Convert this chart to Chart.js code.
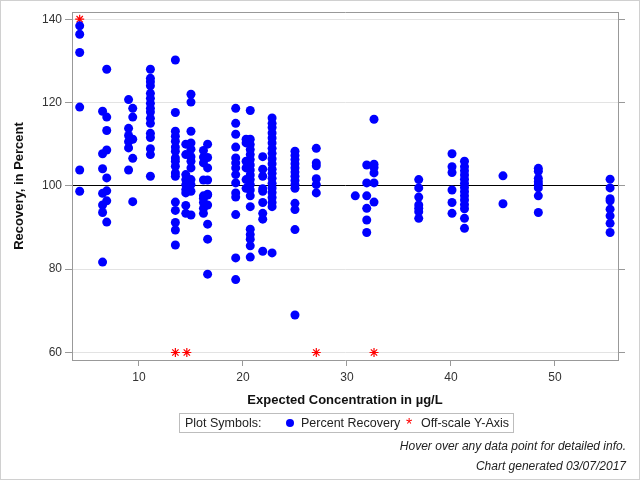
<!DOCTYPE html>
<html>
<head>
<meta charset="utf-8">
<script src="https://cdn.jsdelivr.net/npm/chart.js@4.4.0/dist/chart.umd.min.js"></script>
<style>
  body { margin: 0; font-family: "Liberation Sans", Arial, sans-serif; }
  #wrap { position: relative; width: 638px; height: 478px; border: 1px solid #d0d0d0; overflow: hidden; }
  #chart { position: absolute; left: -1px; top: -1px; }
  #legend { position: absolute; left: 178px; top: 412px; width: 333px; height: 18px; border: 1px solid #bdbdbd;
            font-size: 12.5px; color: #222; line-height: 18px; white-space: nowrap; }
  #legend span { position: absolute; top: 0; }
  .dot { display: inline-block; width: 8px; height: 8px; border-radius: 50%; background: #0000ff; }
  .foot { position: absolute; right: 13px; font-size: 12px; font-style: italic; color: #222; }
</style>
</head>
<body>
<div id="wrap">
  <canvas id="chart" width="640" height="480"></canvas>
  <div id="legend">
    <span style="left:5px">Plot Symbols:</span>
    <span style="left:106px; top:5px" class="dot"></span>
    <span style="left:121px">Percent Recovery</span>
    <span style="left:226px; color:#ff0000; font-size:16px; top:2px">*</span>
    <span style="left:241px">Off-scale Y-Axis</span>
  </div>
  <div class="foot" style="top:438px">Hover over any data point for detailed info.</div>
  <div class="foot" style="top:458px">Chart generated 03/07/2017</div>
</div>
<script>
// expected concentration (µg/L) of each sample group
const concLevels = [4.3, 6.5, 6.9, 9.0, 9.4, 11.1, 13.5, 14.5, 15.0, 16.2, 16.6, 19.3, 20.3, 20.7,
                    21.9, 22.8, 25.0, 27.05, 30.8, 31.9, 32.6, 36.9, 40.1, 41.3, 45.0, 48.4, 55.3];

// percent recovery per concentration group
const recoveryByLevel = [
    [138.4, 136.4, 132, 118.9, 103.8, 98.7],
    [117.9, 107.7, 104.1, 98.2, 95.4, 93.6, 81.7],
    [128, 116.5, 113.3, 108.6, 101.9, 98.8, 96.4, 91.3],
    [120.7, 113.8, 112.1, 110.6, 109.1, 103.8],
    [118.6, 116.5, 111.2, 106.6, 96.2],
    [128, 125.8, 125, 124, 122.2, 121, 119.8, 118.6, 117.7, 116.2, 115, 112.6, 111.6, 108.9, 107.5, 102.3],
    [130.2, 117.6, 113.1, 111.9, 110.7, 109.3, 108.3, 106.7, 105.9, 104.7, 103.1, 102.3, 96.1, 94.1, 91.2, 89.4, 85.8],
    [110, 107.5, 102.7, 101.5, 100.3, 99.1, 98.3, 95.3, 93.4],
    [122, 120.1, 113.1, 110.3, 108.8, 107, 105.9, 104.3, 101.5, 100.3, 98.7, 93],
    [108.5, 106.9, 105.5, 101.4, 97.6, 97, 96, 94.6, 93.4],
    [110, 106.8, 104.3, 101.4, 98, 97.8, 95.4, 90.8, 87.2, 78.8],
    [118.6, 115, 112.4, 109.3, 106.7, 105.5, 104.3, 102.7, 100.7, 98.3, 97.3, 93.1, 82.7, 77.5],
    [111.2, 110.3, 105.9, 104.3, 101.5, 99.4],
    [118.1, 111.2, 109.9, 108.7, 107.5, 106.3, 105, 103.8, 102.6, 101.5, 100.3, 99, 97.6, 95, 89.6, 88.3, 87.2, 85.6, 82.9],
    [107, 104, 102.3, 99.3, 98.7, 96, 93.4, 92, 84.3],
    [116.3, 115, 114, 112.7, 111.5, 110.3, 109, 107.8, 106.5, 105.3, 104, 103, 101.8, 100.6, 99.5, 98.4, 97.2, 96, 95, 83.9],
    [108.3, 107.3, 106.3, 105.3, 104.3, 103.3, 102.3, 101.3, 100.3, 99.4, 95.8, 94.3, 89.5, 69],
    [109, 105.5, 104.8, 101.7, 100.3, 98.3],
    [97.6],
    [105, 100.7, 97.6, 94.6, 91.8, 88.8],
    [116, 105.2, 104.4, 103.1, 100.7, 96.1],
    [101.5, 99.5, 97.3, 95.4, 94.6, 93.8, 92.2],
    [107.7, 104.6, 103.2, 99, 96, 93.4],
    [105.9, 104.6, 103.6, 102.6, 101.6, 100.6, 99.6, 98.6, 97.6, 96.6, 95.5, 94.5, 92.2, 89.8],
    [102.4, 95.7],
    [104.2, 103.5, 101.8, 101, 100.3, 99.5, 97.6, 93.6],
    [101.6, 99.5, 96.9, 96.4, 94.4, 92.8, 91, 88.8]
];

// off-scale samples, drawn at the axis limit
const offScaleConc = [4.3, 13.5, 14.6, 27.05, 32.6];
const offScaleY = [140, 60, 60, 60, 60];

const xTickValues = [10, 20, 30, 40, 50];
const yTickValues = [60, 80, 100, 120, 140];

const recoveryPoints = [];
concLevels.forEach(function (c, i) {
    recoveryByLevel[i].forEach(function (r) {
        recoveryPoints.push({ x: c, y: r });
    });
});
const offScalePoints = offScaleConc.map(function (c, i) { return { x: c, y: offScaleY[i] }; });

const tickFont = { family: '"Liberation Sans", Arial, sans-serif', size: 12 };
const titleFont = { family: '"Liberation Sans", Arial, sans-serif', size: 13, weight: 'bold' };

const chart = new Chart(document.getElementById('chart').getContext('2d'), {
    type: 'scatter',
    data: {
        datasets: [{
            label: 'Percent Recovery',
            data: recoveryPoints,
            backgroundColor: '#0000ff',
            borderWidth: 0,
            pointRadius: 4.5
        }, {
            label: 'Off-scale Y-Axis',
            data: offScalePoints,
            pointStyle: 'star',
            borderColor: '#ff0000',
            borderWidth: 1.2,
            pointRadius: 4.5
        }]
    },
    options: {
        responsive: false,
        animation: false,
        layout: { padding: { left: 8, top: 12, right: 15, bottom: 70 } },
        plugins: { legend: { display: false }, tooltip: { enabled: false } },
        scales: {
            x: {
                type: 'linear',
                min: 3.56,
                max: 56.06,
                afterBuildTicks: function (scale) { scale.ticks = xTickValues.map(function (v) { return { value: v }; }); },
                afterFit: function (scale) { scale.height = 50; },
                grid: { drawOnChartArea: false, tickLength: 6, tickColor: '#999' },
                border: { color: '#999' },
                ticks: { font: tickFont, color: '#333', padding: 4, maxRotation: 0 },
                title: { display: true, text: 'Expected Concentration in µg/L', font: titleFont, color: '#111', padding: { top: 4, bottom: 2 } }
            },
            x2: {
                type: 'linear',
                position: 'top',
                min: 3.56,
                max: 56.06,
                grid: { display: false },
                ticks: { display: false },
                border: { color: '#999' },
                afterFit: function (scale) { scale.height = 0; }
            },
            y: {
                min: 58.2,
                max: 141.73,
                afterBuildTicks: function (scale) { scale.ticks = yTickValues.map(function (v) { return { value: v }; }); },
                afterFit: function (scale) { scale.width = 64; },
                grid: {
                    tickLength: 7,
                    tickColor: '#999',
                    color: function (ctx) { return ctx.tick && ctx.tick.value === 100 ? '#000' : '#e3e3e3'; }
                },
                border: { color: '#999' },
                ticks: { font: tickFont, color: '#333', padding: 3 },
                title: { display: true, text: 'Recovery, in Percent', font: titleFont, color: '#111', padding: { top: 4, bottom: 4 } }
            },
            y2: {
                position: 'right',
                min: 58.2,
                max: 141.73,
                afterBuildTicks: function (scale) { scale.ticks = yTickValues.map(function (v) { return { value: v }; }); },
                afterFit: function (scale) { scale.width = 7; },
                grid: { drawOnChartArea: false, tickLength: 7, tickColor: '#999' },
                border: { color: '#999' },
                ticks: { callback: function () { return ''; }, padding: 0 }
            }
        }
    }
});
</script>
</body>
</html>
